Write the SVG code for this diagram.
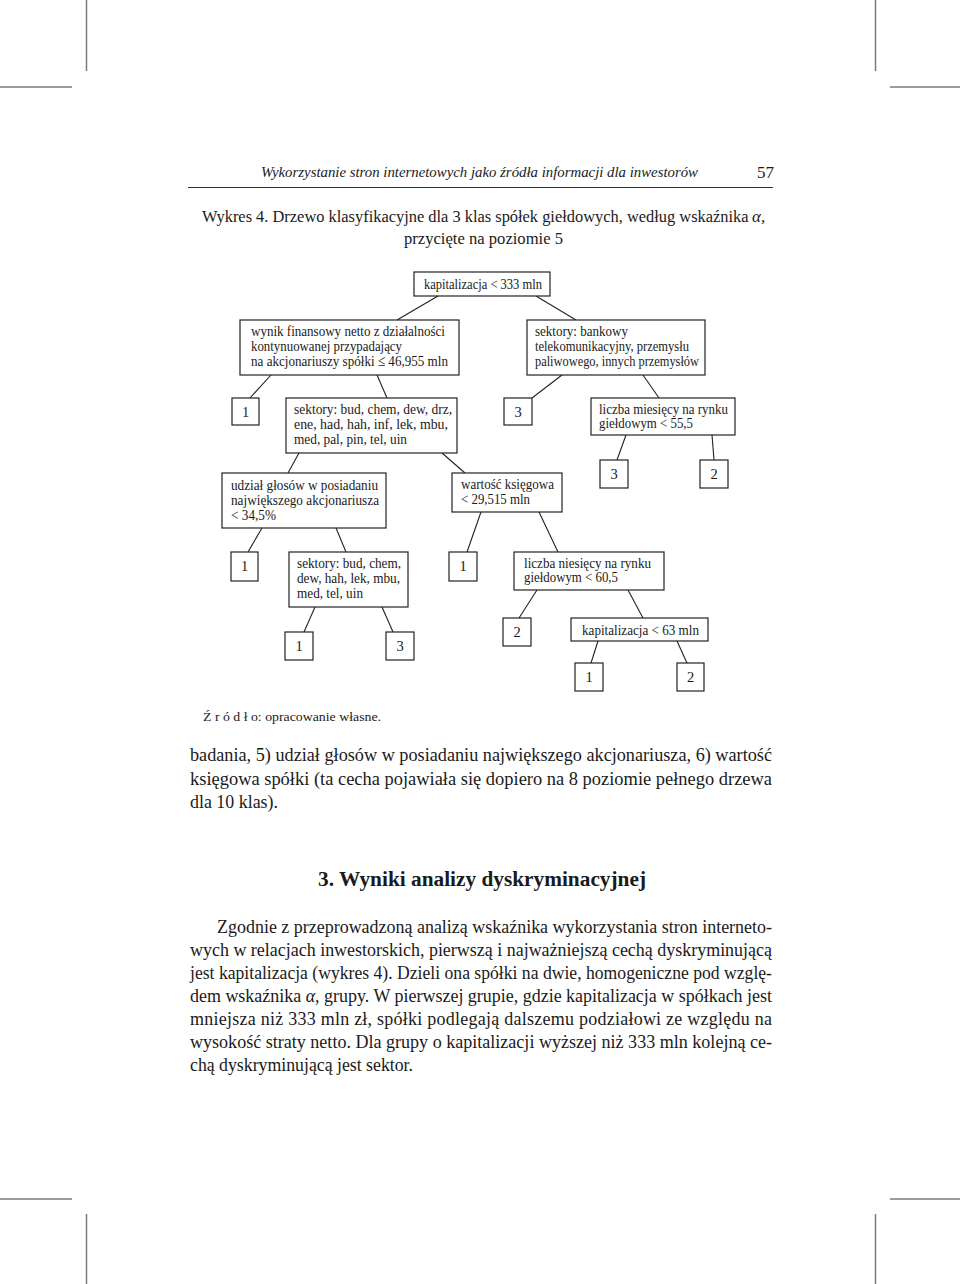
<svg xmlns="http://www.w3.org/2000/svg" width="960" height="1284" viewBox="0 0 960 1284">
<style>
.bg{fill:#fff}
.crop{stroke:#7a7a7a;stroke-width:1.5;fill:none}
.rule{stroke:#333;stroke-width:1}
.box{fill:#fff;stroke:#222;stroke-width:1.2}
.conn line{stroke:#222;stroke-width:1.1}
.t{font-family:"Liberation Serif","Times New Roman",serif;fill:#1a1a1a}
.nt{font-family:"Liberation Serif","Times New Roman",serif;font-size:15.5px;fill:#1a1a1a}
.dg{font-family:"Liberation Serif","Times New Roman",serif;font-size:14.5px;fill:#1a1a1a;text-anchor:middle}
.body{font-family:"Liberation Serif","Times New Roman",serif;font-size:18px;fill:#1a1a1a}
.it{font-style:italic}
</style>
<rect class="bg" x="0" y="0" width="960" height="1284"/>
<g id="cropmarks">
<line class="crop" x1="86.5" y1="0" x2="86.5" y2="71"/>
<line class="crop" x1="0" y1="87" x2="72" y2="87"/>
<line class="crop" x1="875.5" y1="0" x2="875.5" y2="71"/>
<line class="crop" x1="890" y1="87" x2="960" y2="87"/>
<line class="crop" x1="0" y1="1199" x2="72" y2="1199"/>
<line class="crop" x1="86.5" y1="1214" x2="86.5" y2="1284"/>
<line class="crop" x1="890" y1="1199" x2="960" y2="1199"/>
<line class="crop" x1="875.5" y1="1214" x2="875.5" y2="1284"/>
</g>
<g id="header">
<text class="t it" x="261" y="177" font-size="15" textLength="437" lengthAdjust="spacingAndGlyphs">Wykorzystanie stron internetowych jako źródła informacji dla inwestorów</text>
<text class="t" x="757" y="178" font-size="17" textLength="17" lengthAdjust="spacingAndGlyphs">57</text>
<line class="rule" x1="188" y1="187.5" x2="773" y2="187.5"/>
</g>
<g id="title">
<text class="t" transform="translate(202,222) scale(0.938,1)" x="0" y="0" font-size="17.5">Wykres 4. Drzewo klasyfikacyjne dla 3 klas spółek giełdowych, według wskaźnika</text>
<text class="t it" x="752" y="222" font-size="17">α,</text>
<text class="t" x="404" y="244" font-size="17.5" textLength="159" lengthAdjust="spacingAndGlyphs">przycięte na poziomie 5</text>
</g>
<g id="connectors" class="conn">
<line x1="438" y1="296" x2="397" y2="320"/>
<line x1="536" y1="296" x2="576" y2="320"/>
<line x1="271" y1="375" x2="250" y2="398"/>
<line x1="377" y1="375" x2="387" y2="398"/>
<line x1="562" y1="375" x2="532" y2="398"/>
<line x1="643" y1="375" x2="659" y2="398"/>
<line x1="299" y1="453" x2="288" y2="473"/>
<line x1="442" y1="453" x2="465" y2="473"/>
<line x1="626" y1="435" x2="617" y2="460"/>
<line x1="712" y1="435" x2="714" y2="460"/>
<line x1="262" y1="528" x2="248" y2="552"/>
<line x1="336" y1="528" x2="346" y2="552"/>
<line x1="481" y1="512" x2="467" y2="552"/>
<line x1="539" y1="512" x2="558" y2="552"/>
<line x1="315" y1="607" x2="304" y2="632"/>
<line x1="382" y1="607" x2="393" y2="632"/>
<line x1="537" y1="590" x2="519" y2="618"/>
<line x1="628" y1="590" x2="643" y2="618"/>
<line x1="598" y1="641" x2="591" y2="663"/>
<line x1="677" y1="641" x2="687" y2="663"/>
</g>
<g id="n_root"><rect class="box" x="414" y="272" width="136" height="24"/><text class="nt" x="424" y="289" textLength="118" lengthAdjust="spacingAndGlyphs">kapitalizacja &lt; 333 mln</text></g>
<g id="n_wynik"><rect class="box" x="240" y="320" width="219" height="55"/>
<text class="nt" x="251" y="336" textLength="194" lengthAdjust="spacingAndGlyphs">wynik finansowy netto z działalności</text>
<text class="nt" x="251" y="351" textLength="151" lengthAdjust="spacingAndGlyphs">kontynuowanej przypadający</text>
<text class="nt" x="251" y="366" textLength="197" lengthAdjust="spacingAndGlyphs">na akcjonariuszy spółki ≤ 46,955 mln</text></g>
<g id="n_sektory_bank"><rect class="box" x="527" y="320" width="178" height="55"/>
<text class="nt" x="535" y="336" textLength="93" lengthAdjust="spacingAndGlyphs">sektory: bankowy</text>
<text class="nt" x="535" y="351" textLength="154" lengthAdjust="spacingAndGlyphs">telekomunikacyjny, przemysłu</text>
<text class="nt" x="535" y="366" textLength="164" lengthAdjust="spacingAndGlyphs">paliwowego, innych przemysłów</text></g>
<g id="n_leaf1a"><rect class="box" x="232" y="398" width="27" height="27"/><text class="dg" x="245.5" y="417">1</text></g>
<g id="n_sektory1"><rect class="box" x="286" y="398" width="171" height="55"/>
<text class="nt" x="294" y="414" textLength="158" lengthAdjust="spacingAndGlyphs">sektory: bud, chem, dew, drz,</text>
<text class="nt" x="294" y="429" textLength="154" lengthAdjust="spacingAndGlyphs">ene, had, hah, inf, lek, mbu,</text>
<text class="nt" x="294" y="444" textLength="113" lengthAdjust="spacingAndGlyphs">med, pal, pin, tel, uin</text></g>
<g id="n_leaf3a"><rect class="box" x="504" y="398" width="28" height="27"/><text class="dg" x="518" y="417">3</text></g>
<g id="n_liczba1"><rect class="box" x="591" y="398" width="144" height="37"/>
<text class="nt" x="599" y="413.5" textLength="129" lengthAdjust="spacingAndGlyphs">liczba miesięcy na rynku</text>
<text class="nt" x="599" y="428" textLength="94" lengthAdjust="spacingAndGlyphs">giełdowym &lt; 55,5</text></g>
<g id="n_udzial"><rect class="box" x="222" y="473" width="164" height="55"/>
<text class="nt" x="231" y="490" textLength="147" lengthAdjust="spacingAndGlyphs">udział głosów w posiadaniu</text>
<text class="nt" x="231" y="505" textLength="148" lengthAdjust="spacingAndGlyphs">największego akcjonariusza</text>
<text class="nt" x="231" y="520" textLength="45" lengthAdjust="spacingAndGlyphs">&lt; 34,5%</text></g>
<g id="n_wartosc"><rect class="box" x="452" y="473" width="110" height="39"/>
<text class="nt" x="461" y="489" textLength="93" lengthAdjust="spacingAndGlyphs">wartość księgowa</text>
<text class="nt" x="461" y="504" textLength="69" lengthAdjust="spacingAndGlyphs">&lt; 29,515 mln</text></g>
<g id="n_leaf3b"><rect class="box" x="600" y="460" width="28" height="28"/><text class="dg" x="614" y="479">3</text></g>
<g id="n_leaf2a"><rect class="box" x="700" y="460" width="28" height="28"/><text class="dg" x="714" y="479">2</text></g>
<g id="n_leaf1b"><rect class="box" x="231" y="552" width="27" height="29"/><text class="dg" x="244.5" y="571">1</text></g>
<g id="n_sektory2"><rect class="box" x="289" y="552" width="119" height="55"/>
<text class="nt" x="297" y="568" textLength="104" lengthAdjust="spacingAndGlyphs">sektory: bud, chem,</text>
<text class="nt" x="297" y="583" textLength="103" lengthAdjust="spacingAndGlyphs">dew, hah, lek, mbu,</text>
<text class="nt" x="297" y="598" textLength="66" lengthAdjust="spacingAndGlyphs">med, tel, uin</text></g>
<g id="n_leaf1c"><rect class="box" x="449" y="552" width="28" height="29"/><text class="dg" x="463" y="571">1</text></g>
<g id="n_liczba2"><rect class="box" x="514" y="552" width="150" height="38"/>
<text class="nt" x="524" y="567.5" textLength="127" lengthAdjust="spacingAndGlyphs">liczba niesięcy na rynku</text>
<text class="nt" x="524" y="582" textLength="94" lengthAdjust="spacingAndGlyphs">giełdowym &lt; 60,5</text></g>
<g id="n_leaf2b"><rect class="box" x="503" y="618" width="28" height="28"/><text class="dg" x="517" y="637">2</text></g>
<g id="n_kap63"><rect class="box" x="571" y="618" width="137" height="23"/>
<text class="nt" x="582" y="634.5" textLength="117" lengthAdjust="spacingAndGlyphs">kapitalizacja &lt; 63 mln</text></g>
<g id="n_leaf1d"><rect class="box" x="285" y="632" width="28" height="28"/><text class="dg" x="299" y="651">1</text></g>
<g id="n_leaf3c"><rect class="box" x="386" y="632" width="28" height="28"/><text class="dg" x="400" y="651">3</text></g>
<g id="n_leaf1e"><rect class="box" x="575" y="663" width="28" height="28"/><text class="dg" x="589" y="682">1</text></g>
<g id="n_leaf2c"><rect class="box" x="677" y="663" width="27" height="28"/><text class="dg" x="690.5" y="682">2</text></g>
<g id="source">
<text class="t" x="203" y="721" font-size="12.5" textLength="178" lengthAdjust="spacingAndGlyphs">Ź r ó d ł o: opracowanie własne.</text>
</g>
<g id="text1">
<text class="body" x="190" y="761" textLength="582" lengthAdjust="spacingAndGlyphs">badania, 5) udział głosów w posiadaniu największego akcjonariusza, 6) wartość</text>
<text class="body" x="190" y="785" textLength="582" lengthAdjust="spacingAndGlyphs">księgowa spółki (ta cecha pojawiała się dopiero na 8 poziomie pełnego drzewa</text>
<text class="body" x="190" y="808" textLength="88" lengthAdjust="spacingAndGlyphs">dla 10 klas).</text>
</g>
<g id="heading">
<text class="t" x="318" y="886" font-size="20" font-weight="bold" textLength="328" lengthAdjust="spacingAndGlyphs">3. Wyniki analizy dyskryminacyjnej</text>
</g>
<g id="text2">
<text class="body" x="217" y="933" textLength="555" lengthAdjust="spacingAndGlyphs">Zgodnie z przeprowadzoną analizą wskaźnika wykorzystania stron interneto-</text>
<text class="body" x="190" y="956" textLength="582" lengthAdjust="spacingAndGlyphs">wych w relacjach inwestorskich, pierwszą i najważniejszą cechą dyskryminującą</text>
<text class="body" x="190" y="979" textLength="582" lengthAdjust="spacingAndGlyphs">jest kapitalizacja (wykres 4). Dzieli ona spółki na dwie, homogeniczne pod wzglę-</text>
<text class="body" x="190" y="1002" textLength="582" lengthAdjust="spacingAndGlyphs">dem wskaźnika <tspan class="it">α</tspan>, grupy. W pierwszej grupie, gdzie kapitalizacja w spółkach jest</text>
<text class="body" x="190" y="1025" textLength="582" lengthAdjust="spacing">mniejsza niż 333 mln zł, spółki podlegają dalszemu podziałowi ze względu na</text>
<text class="body" x="190" y="1048" textLength="582" lengthAdjust="spacingAndGlyphs">wysokość straty netto. Dla grupy o kapitalizacji wyższej niż 333 mln kolejną ce-</text>
<text class="body" x="190" y="1071" textLength="223" lengthAdjust="spacingAndGlyphs">chą dyskryminującą jest sektor.</text>
</g>
</svg>
